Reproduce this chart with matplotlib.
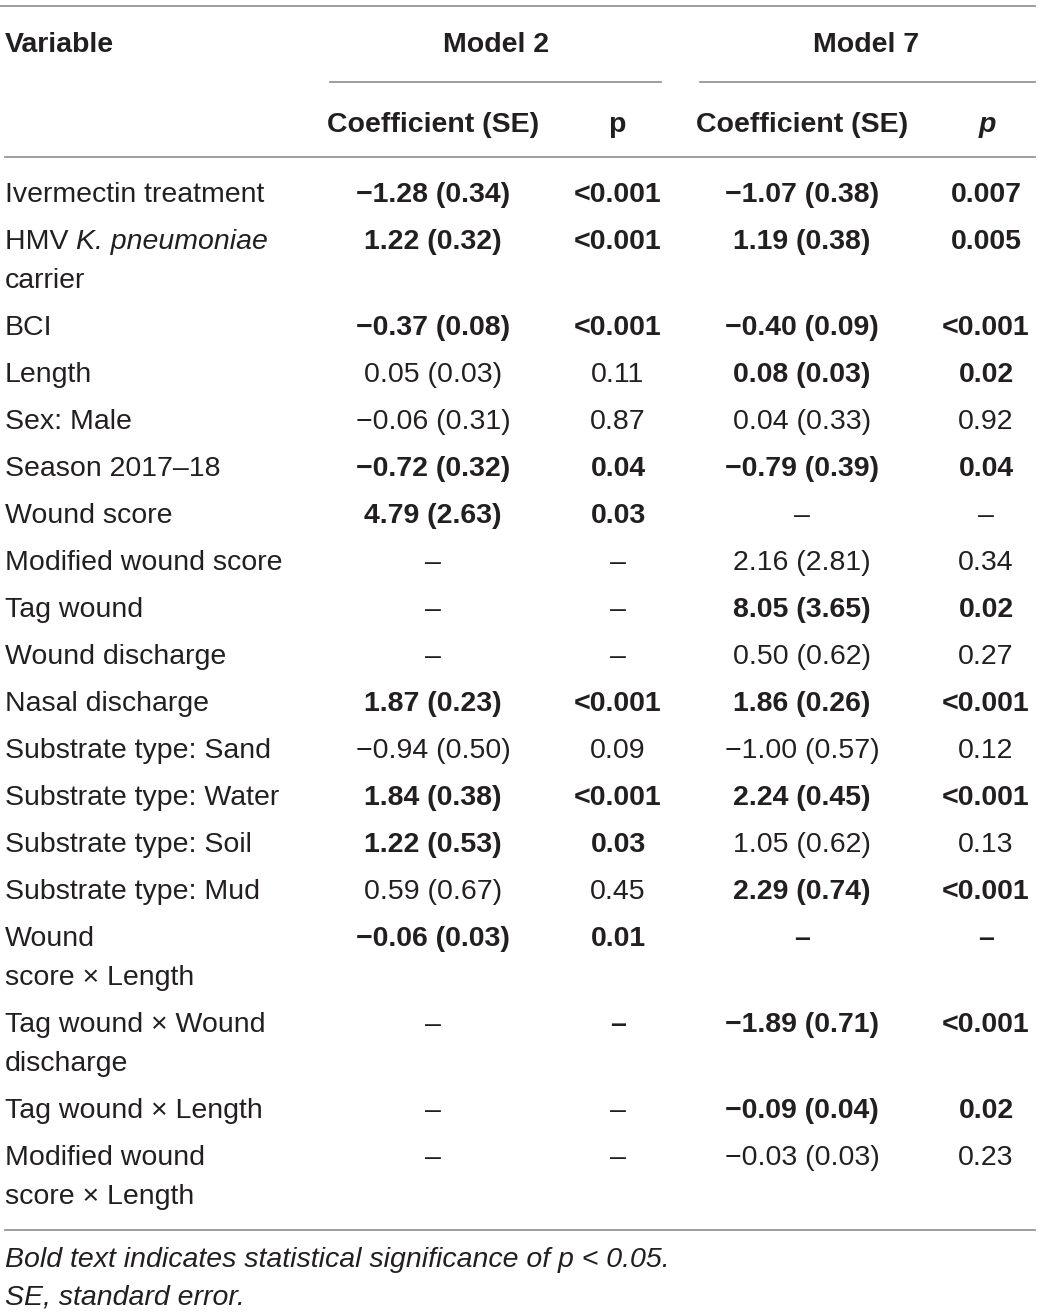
import matplotlib
matplotlib.use("Agg")
import matplotlib.pyplot as plt

# table contents
variables = [
    "Ivermectin treatment",
    "HMV |K. pneumoniae\ncarrier",
    "BCI",
    "Length",
    "Sex: Male",
    "Season 2017\u201318",
    "Wound score",
    "Modified wound score",
    "Tag wound",
    "Wound discharge",
    "Nasal discharge",
    "Substrate type: Sand",
    "Substrate type: Water",
    "Substrate type: Soil",
    "Substrate type: Mud",
    "Wound\nscore \u00d7 Length",
    "Tag wound \u00d7 Wound\ndischarge",
    "Tag wound \u00d7 Length",
    "Modified wound\nscore \u00d7 Length",
]
m2_coef = ["\u22121.28 (0.34)", "1.22 (0.32)", "\u22120.37 (0.08)", "0.05 (0.03)",
           "\u22120.06 (0.31)", "\u22120.72 (0.32)", "4.79 (2.63)", "\u2013", "\u2013", "\u2013",
           "1.87 (0.23)", "\u22120.94 (0.50)", "1.84 (0.38)", "1.22 (0.53)", "0.59 (0.67)",
           "\u22120.06 (0.03)", "\u2013", "\u2013", "\u2013"]
m2_p = ["<0.001", "<0.001", "<0.001", "0.11", "0.87", "0.04", "0.03", "\u2013", "\u2013", "\u2013",
        "<0.001", "0.09", "<0.001", "0.03", "0.45", "0.01", "\u2013", "\u2013", "\u2013"]
m7_coef = ["\u22121.07 (0.38)", "1.19 (0.38)", "\u22120.40 (0.09)", "0.08 (0.03)",
           "0.04 (0.33)", "\u22120.79 (0.39)", "\u2013", "2.16 (2.81)", "8.05 (3.65)", "0.50 (0.62)",
           "1.86 (0.26)", "\u22121.00 (0.57)", "2.24 (0.45)", "1.05 (0.62)", "2.29 (0.74)",
           "\u2013", "\u22121.89 (0.71)", "\u22120.09 (0.04)", "\u22120.03 (0.03)"]
m7_p = ["0.007", "0.005", "<0.001", "0.02", "0.92", "0.04", "\u2013", "0.34", "0.02", "0.27",
        "<0.001", "0.12", "<0.001", "0.13", "<0.001", "\u2013", "<0.001", "0.02", "0.23"]
# bold flags: (m2 coef, m2 p, m7 coef, m7 p)
bold = [
    (1, 1, 1, 1), (1, 1, 1, 1), (1, 1, 1, 1), (0, 0, 1, 1), (0, 0, 0, 0),
    (1, 1, 1, 1), (1, 1, 0, 0), (0, 0, 0, 0), (0, 0, 1, 1), (0, 0, 0, 0),
    (1, 1, 1, 1), (0, 0, 0, 0), (1, 1, 1, 1), (1, 1, 0, 0), (0, 0, 1, 1),
    (1, 1, 1, 1), (0, 1, 1, 1), (0, 0, 1, 1), (0, 0, 0, 0),
]
footnotes = ["Bold text indicates statistical significance of p < 0.05.",
             "SE, standard error."]

plt.rcParams['font.family'] = ['Liberation Sans', 'DejaVu Sans']
TXT = '#231f20'
LINE = '#8c8c8c'
FS = 20.5
DY = 3  # small nudge so text centres sit like the reference

fig = plt.figure(figsize=(10.4, 13.14), dpi=100)
ax = fig.add_axes([0, 0, 1, 1])
ax.set_xlim(0, 1040)
ax.set_ylim(1314, 0)
ax.axis('off')

# rules
ax.plot([0, 1035], [6, 6], color=LINE, lw=1.2)
ax.plot([330, 661], [82, 82], color=LINE, lw=1.2)
ax.plot([700, 1035], [82, 82], color=LINE, lw=1.2)
ax.plot([5, 1035], [157, 157], color=LINE, lw=1.2)
ax.plot([5, 1035], [1230, 1230], color=LINE, lw=1.2)

# header
ax.text(5, 42 + DY, "Variable", fontsize=FS, fontweight='bold', color=TXT, va='center')
ax.text(496, 42 + DY, "Model 2", fontsize=FS, fontweight='bold', color=TXT, va='center', ha='center')
ax.text(866, 42 + DY, "Model 7", fontsize=FS, fontweight='bold', color=TXT, va='center', ha='center')
ax.text(433, 122 + DY, "Coefficient (SE)", fontsize=FS, fontweight='bold', color=TXT, va='center', ha='center')
ax.text(617, 122 + DY, "p", fontsize=FS, fontweight='bold', color=TXT, va='center', ha='center')
ax.text(802, 122 + DY, "Coefficient (SE)", fontsize=FS, fontweight='bold', color=TXT, va='center', ha='center')
ax.text(987, 122 + DY, "p", fontsize=FS, fontweight='bold', style='italic', color=TXT, va='center', ha='center')

col_x = [433, 618, 802, 986]
y = 192
for i, var in enumerate(variables):
    lines = var.split("\n")
    for j, ln in enumerate(lines):
        yy = y + j * 39 + DY
        if "|" in ln:
            pre, ital = ln.split("|")
            t = ax.text(5, yy, pre, fontsize=FS, color=TXT, va='center')
            ax.annotate(ital, xy=(1, 0.5), xycoords=t, fontsize=FS, style='italic',
                        color=TXT, va='center', ha='left')
        else:
            ax.text(5, yy, ln, fontsize=FS, color=TXT, va='center')
    cells = [m2_coef[i], m2_p[i], m7_coef[i], m7_p[i]]
    for k, c in enumerate(cells):
        ax.text(col_x[k], y + DY, c, fontsize=FS, color=TXT, va='center', ha='center',
                fontweight='bold' if bold[i][k] else 'normal')
    y += 47 + 39 * (len(lines) - 1)

# footnotes
for j, fn in enumerate(footnotes):
    ax.text(5, 1257 + j * 38 + DY, fn, fontsize=FS, style='italic', color=TXT, va='center')

fig.savefig("out.png", dpi=100)
